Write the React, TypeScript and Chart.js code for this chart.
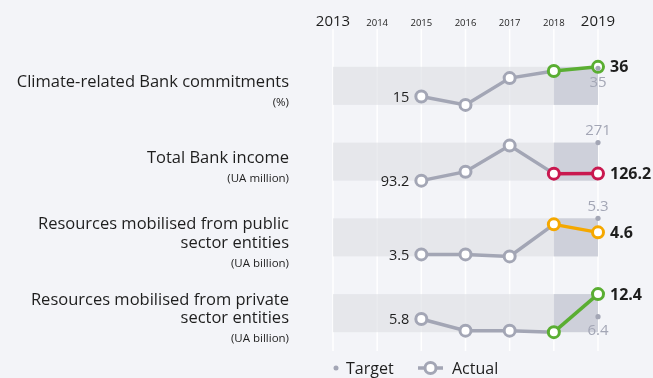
import React, { useEffect, useRef } from 'react';
import { Chart, registerables } from 'chart.js';

Chart.register(...registerables);

// ---------- data ----------
const years = ['2013', '2014', '2015', '2016', '2017', '2018', '2019'];
const rowTitles: string[][] = [
  ['Climate-related Bank commitments'],
  ['Total Bank income'],
  ['Resources mobilised from public', 'sector entities'],
  ['Resources mobilised from private', 'sector entities'],
];
const rowUnits = ['(%)', '(UA million)', '(UA billion)', '(UA billion)'];
const climateActual = [null, null, 15, 9, 28, 33, 36];
const incomeActual = [null, null, 93.2, 135, 257, 126, 126.2];
const publicActual = [null, null, 3.5, 3.5, 3.4, 5.0, 4.6];
const privateActual = [null, null, 5.8, 2.7, 2.7, 2.3, 12.4];
const targets2019 = [35, 271, 5.3, 6.4];
const highlightColors = ['#5aae32', '#c9184f', '#f5a800', '#5aae32'];
const legendLabels = ['Target', 'Actual'];

// ---------- styling ----------
const GRAY = '#a3a6b5';
const BG = '#f3f4f8';
const FONT = '"Open Sans", "Noto Sans", sans-serif';
const ROW_PAD = 0.495;
const HIGHLIGHT_FROM = 5;

const actuals = [climateActual, incomeActual, publicActual, privateActual];
const nRows = actuals.length;

function rowRange(i: number) {
  const vals = (actuals[i].filter((v) => v !== null) as number[]).concat([targets2019[i]]);
  return { lo: Math.min(...vals), hi: Math.max(...vals) };
}

function axisFor(i: number) {
  const { lo, hi } = rowRange(i);
  const r = hi - lo;
  const segLo = lo - ROW_PAD * r;
  const segHi = hi + ROW_PAD * r;
  const S = segHi - segLo;
  return {
    type: 'linear' as const,
    display: false,
    min: segLo - (nRows - 1 - i) * S,
    max: segHi + i * S,
  };
}

function lastIndex(arr: (number | null)[]) {
  for (let k = arr.length - 1; k >= 0; k--) if (arr[k] !== null) return k;
  return -1;
}
function firstIndex(arr: (number | null)[]) {
  for (let k = 0; k < arr.length; k++) if (arr[k] !== null) return k;
  return -1;
}

const decorPlugin = {
  id: 'decor',
  beforeDraw(chart: any) {
    const { ctx, width, height, chartArea } = chart;
    const xs = chart.scales.x;
    ctx.save();
    ctx.fillStyle = BG;
    ctx.fillRect(0, 0, width, height);

    // gridlines
    ctx.strokeStyle = '#ffffff';
    ctx.lineWidth = 1.5;
    years.forEach((_, j) => {
      const x = xs.getPixelForValue(j);
      ctx.beginPath();
      ctx.moveTo(x, 29);
      ctx.lineTo(x, chartArea.bottom);
      ctx.stroke();
    });

    // bands
    for (let i = 0; i < nRows; i++) {
      const ys = chart.scales['y' + i];
      const { lo, hi } = rowRange(i);
      const yt = ys.getPixelForValue(hi);
      const yb = ys.getPixelForValue(lo);
      const x0 = xs.getPixelForValue(0);
      const x5 = xs.getPixelForValue(HIGHLIGHT_FROM);
      const x6 = xs.getPixelForValue(years.length - 1);
      ctx.fillStyle = 'rgba(221,222,228,0.62)';
      ctx.fillRect(x0, yt, x6 - x0, yb - yt);
      ctx.fillStyle = 'rgba(190,193,207,0.6)';
      ctx.fillRect(x5, yt, x6 - x5, yb - yt);

      // row titles
      const center = (yt + yb) / 2;
      const lines = rowTitles[i];
      const y = center + 1 - (lines.length - 1) * 9;
      ctx.fillStyle = '#1e1e1e';
      ctx.textAlign = 'right';
      ctx.textBaseline = 'alphabetic';
      ctx.font = `16.5px ${FONT}`;
      lines.forEach((ln, k) => {
        ctx.fillText(ln, 289, y + k * 18.3);
      });
      ctx.font = `11.5px ${FONT}`;
      ctx.fillText(rowUnits[i], 289, y + (lines.length - 1) * 18.3 + 19);
    }

    // year labels
    ctx.fillStyle = '#1e1e1e';
    ctx.textAlign = 'center';
    ctx.textBaseline = 'alphabetic';
    years.forEach((yr, j) => {
      const big = j === 0 || j === years.length - 1;
      ctx.font = big ? `15px ${FONT}` : `9.5px ${FONT}`;
      ctx.fillText(yr, xs.getPixelForValue(j), 25.5);
    });

    // legend
    const ly = 368;
    ctx.fillStyle = GRAY;
    ctx.beginPath();
    ctx.arc(336, ly, 2.5, 0, Math.PI * 2);
    ctx.fill();
    ctx.fillStyle = '#1e1e1e';
    ctx.textAlign = 'left';
    ctx.textBaseline = 'middle';
    ctx.font = `16px ${FONT}`;
    ctx.fillText(legendLabels[0], 346, ly + 1);
    ctx.strokeStyle = GRAY;
    ctx.lineWidth = 3.5;
    ctx.beginPath();
    ctx.moveTo(418, ly);
    ctx.lineTo(443, ly);
    ctx.stroke();
    ctx.fillStyle = '#ffffff';
    ctx.lineWidth = 3;
    ctx.beginPath();
    ctx.arc(430.5, ly, 5.5, 0, Math.PI * 2);
    ctx.fill();
    ctx.stroke();
    ctx.fillStyle = '#1e1e1e';
    ctx.fillText(legendLabels[1], 452, ly + 1);
    ctx.restore();
  },
  afterDatasetsDraw(chart: any) {
    const { ctx } = chart;
    const xs = chart.scales.x;
    ctx.save();
    ctx.textBaseline = 'middle';
    for (let i = 0; i < nRows; i++) {
      const ys = chart.scales['y' + i];
      const arr = actuals[i];
      const f = firstIndex(arr);
      const l = lastIndex(arr);
      // first value
      ctx.fillStyle = '#1e1e1e';
      ctx.textAlign = 'right';
      ctx.font = `14.5px ${FONT}`;
      ctx.fillText(String(arr[f]), xs.getPixelForValue(f) - 12, ys.getPixelForValue(arr[f]) + 1);
      // last value
      ctx.textAlign = 'left';
      ctx.font = `bold 16px ${FONT}`;
      ctx.fillText(String(arr[l]), xs.getPixelForValue(l) + 12, ys.getPixelForValue(arr[l]) + 1);
      // target value
      const t = targets2019[i];
      const above = t > (arr[l] as number);
      ctx.fillStyle = GRAY;
      ctx.textAlign = 'center';
      ctx.font = `15px ${FONT}`;
      const ty = ys.getPixelForValue(t) + (above ? -12 : 14);
      ctx.fillText(String(t), xs.getPixelForValue(years.length - 1), ty);
    }
    ctx.restore();
  },
};

export default function App() {
  const ref = useRef<HTMLCanvasElement>(null);
  useEffect(() => {
    if (!ref.current) return;
    const datasets: any[] = [];
    for (let i = 0; i < nRows; i++) {
      const color = highlightColors[i];
      datasets.push({
        label: 'Target ' + i,
        data: years.map((_, j) => (j === years.length - 1 ? targets2019[i] : null)),
        yAxisID: 'y' + i,
        showLine: false,
        pointRadius: 2.6,
        pointBorderWidth: 0,
        pointBackgroundColor: GRAY,
        order: 0,
        clip: false,
      });
      datasets.push({
        label: 'Actual ' + i,
        data: actuals[i],
        yAxisID: 'y' + i,
        borderWidth: 3.5,
        borderColor: GRAY,
        segment: {
          borderColor: (c: any) => (c.p0DataIndex >= HIGHLIGHT_FROM ? color : GRAY),
        },
        pointRadius: 5.5,
        pointBorderWidth: 3,
        pointBackgroundColor: '#ffffff',
        pointBorderColor: (c: any) => (c.dataIndex >= HIGHLIGHT_FROM ? color : GRAY),
        spanGaps: false,
        order: 1,
        clip: false,
      });
    }
    const scales: any = {
      x: { type: 'category', display: false, offset: false },
    };
    for (let i = 0; i < nRows; i++) scales['y' + i] = axisFor(i);

    const chart = new Chart(ref.current, {
      type: 'line',
      data: { labels: years, datasets },
      options: {
        responsive: false,
        maintainAspectRatio: false,
        animation: false,
        devicePixelRatio: 1,
        layout: { padding: { left: 333, right: 55, top: 48, bottom: 27 } },
        plugins: { legend: { display: false }, tooltip: { enabled: false } },
        scales,
      },
      plugins: [decorPlugin],
    });
    return () => chart.destroy();
  }, []);
  return (
    <div style={{ position: 'absolute', left: 0, top: 0, width: 653, height: 378 }}>
      <canvas ref={ref} width={653} height={378} style={{ display: 'block' }} />
    </div>
  );
}
